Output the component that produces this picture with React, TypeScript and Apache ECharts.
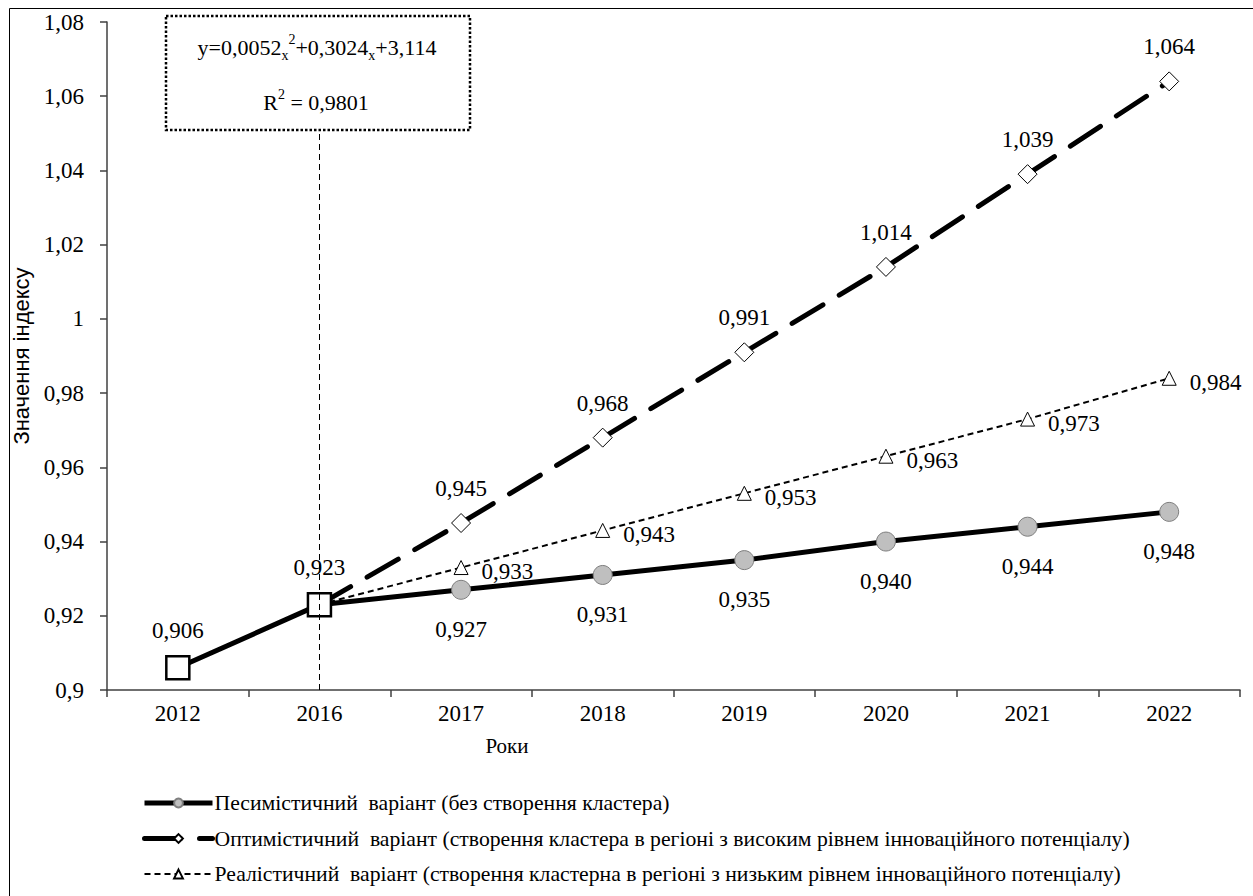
import React, { useEffect, useRef } from "react";
import * as echarts from "echarts";

const years = ["2012", "2016", "2017", "2018", "2019", "2020", "2021", "2022"];
const pessimistic = [0.906, 0.923, 0.927, 0.931, 0.935, 0.94, 0.944, 0.948];
const optimistic = [null, 0.923, 0.945, 0.968, 0.991, 1.014, 1.039, 1.064];
const realistic = [null, 0.923, 0.933, 0.943, 0.953, 0.963, 0.973, 0.984];
const yMin = 0.9;
const yMax = 1.08;
const yStep = 0.02;
const trendLineTop = 1.051;

const seriesNames = [
  "Песимістичний  варіант (без створення кластера)",
  "Оптимістичний  варіант (створення кластера в регіоні з високим рівнем інноваційного потенціалу)",
  "Реалістичний  варіант (створення кластерна в регіоні з низьким рівнем інноваційного потенціалу)",
];

const SERIF = "Times New Roman, Liberation Serif, DejaVu Serif, serif";
const SANS = "Liberation Sans, Arial, sans-serif";
const FS = 23;

const fmt3 = (v: number) => v.toFixed(3).replace(".", ",");

export default function App() {
  const ref = useRef<HTMLDivElement>(null);
  useEffect(() => {
    if (!ref.current) return;
    const chart = echarts.init(ref.current, undefined, { renderer: "svg" });
    const baseLabel = {
      show: true,
      fontFamily: SERIF,
      fontSize: FS,
      color: "#000",
      formatter: (p: any) => fmt3(p.value),
    };
    const pessData = pessimistic.map((v, i) =>
      i < 2
        ? {
            value: v,
            symbol: "rect",
            symbolSize: 23,
            itemStyle: { color: "#fff", borderColor: "#000", borderWidth: 2.5 },
            label: { position: "top", distance: 13 },
          }
        : v
    );
    const firstNone = (arr: (number | null)[]) =>
      arr.map((v, i) => (i === 1 ? { value: v, symbol: "none", label: { show: false } } : v));

    const rich = {
      m: { fontFamily: SERIF, fontSize: 22, lineHeight: 30, fill: "#000" },
      sub: { fontFamily: SERIF, fontSize: 14, lineHeight: 14, verticalAlign: "bottom", fill: "#000" },
      sup: { fontFamily: SERIF, fontSize: 14, lineHeight: 24, verticalAlign: "top", fill: "#000" },
    };

    chart.setOption({
      animation: false,
      backgroundColor: "#fff",
      textStyle: { fontFamily: SERIF },
      grid: { left: 107, right: 13, top: 22, bottom: 206, containLabel: false },
      legend: {
        orient: "vertical",
        left: 142,
        top: 791,
        padding: 0,
        itemWidth: 68,
        itemHeight: 11,
        itemGap: 11.5,
        selectedMode: false,
        data: [
          { name: seriesNames[0], lineStyle: { width: 5 } },
          { name: seriesNames[1], lineStyle: { width: 5 } },
          { name: seriesNames[2], lineStyle: { width: 2 } },
        ],
        textStyle: { fontFamily: SERIF, fontSize: 21.7, color: "#000", lineHeight: 24, padding: [0, 0, 0, -3] },
      },
      xAxis: {
        type: "category",
        data: years,
        boundaryGap: true,
        axisLine: { lineStyle: { color: "#404040", width: 1.5 } },
        axisTick: { show: true, inside: false, length: 7, lineStyle: { color: "#404040", width: 1.5 } },
        axisLabel: { fontFamily: SERIF, fontSize: FS, color: "#000", margin: 12 },
        splitLine: { show: false },
      },
      yAxis: {
        type: "value",
        min: yMin,
        max: yMax,
        interval: yStep,
        name: "Значення індексу",
        nameLocation: "middle",
        nameGap: 69,
        nameTextStyle: { fontFamily: SANS, fontSize: 22, color: "#000" },
        axisLine: { show: true, lineStyle: { color: "#404040", width: 1.5 } },
        axisTick: { show: true, inside: false, length: 7, lineStyle: { color: "#404040", width: 1.5 } },
        axisLabel: {
          fontFamily: SERIF,
          fontSize: FS,
          color: "#000",
          margin: 23,
          formatter: (v: number) => String(Number(v.toFixed(2))).replace(".", ","),
        },
        splitLine: { show: false },
      },
      series: [
        {
          name: seriesNames[1],
          type: "line",
          data: firstNone(optimistic),
          z: 2,
          symbol: "diamond",
          symbolSize: 19,
          itemStyle: { color: "#fff", borderColor: "#000", borderWidth: 1 },
          lineStyle: { color: "#000", width: 5, type: [36, 19], cap: "round" },
          label: { ...baseLabel, position: "top", distance: 13 },
        },
        {
          name: seriesNames[2],
          type: "line",
          data: firstNone(realistic),
          z: 2,
          symbol: "triangle",
          symbolSize: 14,
          itemStyle: { color: "#fff", borderColor: "#000", borderWidth: 1 },
          lineStyle: { color: "#000", width: 2, type: [6, 4] },
          label: { ...baseLabel, position: "right", distance: 13, offset: [0, 4] },
        },
        {
          name: seriesNames[0],
          type: "line",
          data: pessData,
          z: 3,
          symbol: "circle",
          symbolSize: 19,
          itemStyle: { color: "#bfbfbf", borderColor: "#7f7f7f", borderWidth: 1 },
          lineStyle: { color: "#000", width: 5 },
          label: { ...baseLabel, position: "bottom", distance: 18 },
          markLine: {
            silent: true,
            symbol: "none",
            z: 10,
            label: { show: false },
            lineStyle: { color: "#000", width: 1, type: [6, 4] },
            data: [[{ coord: ["2016", yMin] }, { coord: ["2016", trendLineTop] }]],
          },
        },
      ],
      graphic: [
        {
          type: "rect",
          left: 7,
          top: 6,
          shape: { x: 0, y: 0, width: 1300, height: 1000 },
          style: { fill: "none", stroke: "#000", lineWidth: 1 },
          silent: true,
          z: -10,
        },
        {
          type: "rect",
          shape: { x: 166, y: 16, width: 304, height: 114 },
          style: { fill: "#fff", stroke: "#000", lineWidth: 2.5, lineDash: [2.5, 2] },
          z: 10,
        },
        {
          type: "text",
          x: 317,
          y: 47,
          z: 11,
          style: {
            text: "{m|y=0,0052}{sub|x}{sup|2}{m|+0,3024}{sub|x}{m|+3,114}",
            rich,
            align: "center",
            verticalAlign: "middle",
          },
        },
        {
          type: "text",
          x: 316,
          y: 102,
          z: 11,
          style: {
            text: "{m|R}{sup|2}{m| = 0,9801}",
            rich,
            align: "center",
            verticalAlign: "middle",
          },
        },
        {
          type: "text",
          x: 507,
          y: 746,
          style: {
            text: "Роки",
            fontFamily: SERIF,
            fontSize: 21,
            fill: "#000",
            align: "center",
            verticalAlign: "middle",
          },
        },
      ],
    });
    return () => chart.dispose();
  }, []);
  return (
    <div
      ref={ref}
      style={{ position: "absolute", left: 0, top: 0, width: 1253, height: 896, background: "#fff" }}
    />
  );
}
